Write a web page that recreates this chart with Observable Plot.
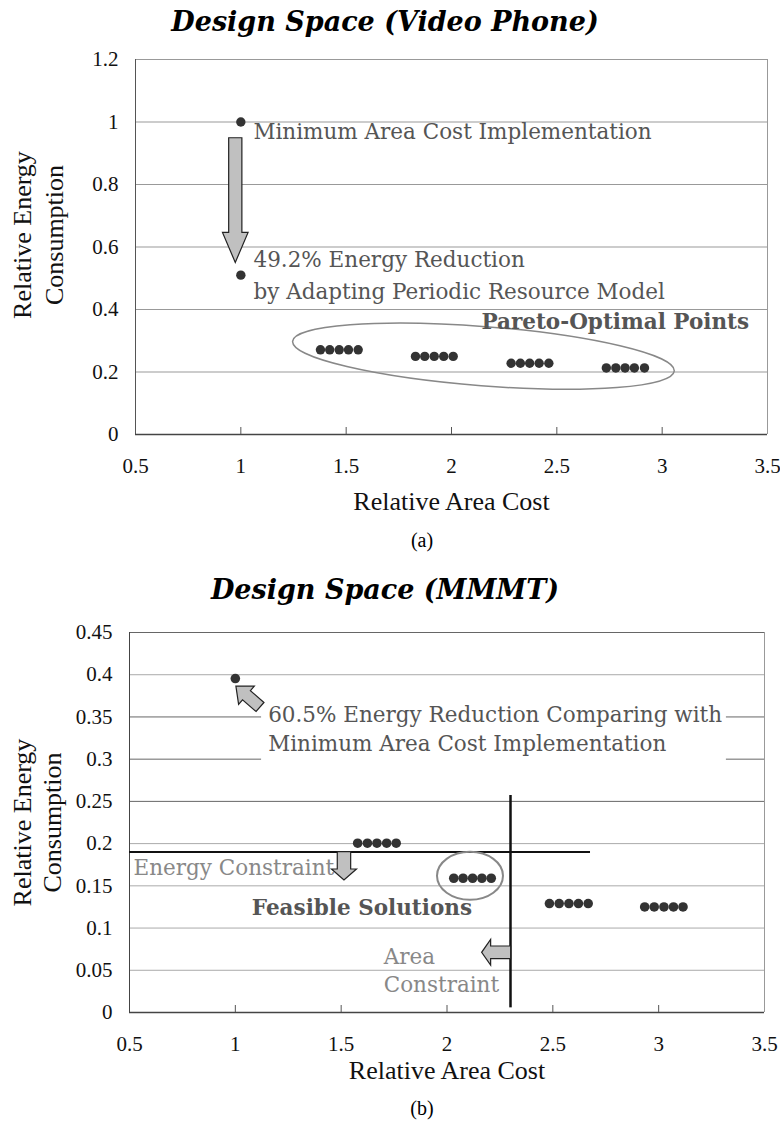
<!DOCTYPE html>
<html>
<head>
<meta charset="utf-8">
<script src="https://cdn.jsdelivr.net/npm/d3@7"></script>
<script src="https://cdn.jsdelivr.net/npm/@observablehq/plot@0.6"></script>
<style>
  html, body { margin: 0; padding: 0; background: #fff; }
  body { width: 780px; }
  .title { font-family: "DejaVu Serif", serif; font-weight: bold; font-style: italic; font-size: 27px;
           color: #000; text-align: center; width: 780px; padding-right: 10px; box-sizing: border-box; }
  .cap { font-family: "Liberation Serif", serif; font-size: 20px; color: #000; text-align: center;
         width: 780px; padding-left: 64px; box-sizing: border-box; }
  svg { display: block; }
  svg [aria-label$="tick label"], svg [aria-label$="tick label"] text {
    font-family: "Liberation Serif", serif !important; font-variant: normal !important;
  }
</style>
</head>
<body>
<div class="title" style="height:44px;line-height:44px">Design Space (Video Phone)</div>
<div id="chartA"></div>
<div class="cap" style="height:40px;line-height:40px">(a)</div>
<div class="title" style="height:60px;line-height:60px">Design Space (MMMT)</div>
<div id="chartB"></div>
<div class="cap" style="height:36px;line-height:36px">(b)</div>
<script>
// ---------- data ----------
const xTicks = [0.5, 1, 1.5, 2, 2.5, 3, 3.5];
const yTicksA = [0, 0.2, 0.4, 0.6, 0.8, 1, 1.2];
const yTicksB = [0, 0.05, 0.1, 0.15, 0.2, 0.25, 0.3, 0.35, 0.4, 0.45];
const gridDarkB = [0.25, 0.3, 0.35, 0.45];
const gridLightB = [0.05, 0.1, 0.15, 0.2, 0.4];

// (a) Video Phone: relative area cost vs relative energy consumption
const videoArea = [1, 1,
  1.378, 1.422, 1.467, 1.511, 1.557,
  1.829, 1.873, 1.918, 1.963, 2.008,
  2.283, 2.327, 2.371, 2.416, 2.462,
  2.735, 2.780, 2.824, 2.868, 2.916];
const videoEnergy = [1.0, 0.51,
  0.271, 0.271, 0.271, 0.271, 0.271,
  0.250, 0.250, 0.250, 0.250, 0.250,
  0.228, 0.228, 0.228, 0.228, 0.228,
  0.213, 0.213, 0.213, 0.213, 0.213];

// (b) MMMT
const mmmtArea = [1.0,
  1.578, 1.624, 1.669, 1.715, 1.760,
  2.032, 2.076, 2.121, 2.165, 2.209,
  2.484, 2.530, 2.576, 2.621, 2.667,
  2.934, 2.979, 3.025, 3.070, 3.115];
const mmmtEnergy = [0.3955,
  0.2005, 0.2005, 0.2005, 0.2005, 0.2005,
  0.159, 0.159, 0.159, 0.159, 0.159,
  0.129, 0.129, 0.129, 0.129, 0.129,
  0.125, 0.125, 0.125, 0.125, 0.125];

const energyConstraint = 0.19;   // horizontal line
const areaConstraint = 2.30;     // vertical line

// annotations (data coordinates)
const notesA = [
  {x: 1.06, y: 0.967, text: "Minimum Area Cost Implementation"},
  {x: 1.06, y: 0.559, text: "49.2% Energy Reduction"},
  {x: 1.06, y: 0.455, text: "by Adapting Periodic Resource Model"}
];
const boldA = [{x: 2.142, y: 0.359, text: "Pareto-Optimal Points"}];
const notesB = [
  {x: 1.155, y: 0.3526, text: "60.5% Energy Reduction Comparing with"},
  {x: 1.155, y: 0.3174, text: "Minimum Area Cost Implementation"}
];
const lightB = [
  {x: 0.519, y: 0.1714, text: "Energy Constraint"},
  {x: 1.701, y: 0.0655, text: "Area"},
  {x: 1.701, y: 0.032, text: "Constraint"}
];
const boldB = [{x: 1.078, y: 0.1235, text: "Feasible Solutions"}];
const boxB = [{x1: 1.124, x2: 3.32, y1: 0.29, y2: 0.365}];

// arrows: tail -> tip (data coordinates)
const arrowA = [{x1: 0.976, y1: 0.948, x2: 0.976, y2: 0.549}];
const arrowPoint = [{x1: 1.119, y1: 0.3612, x2: 1.005, y2: 0.386}];
const arrowEnergy = [{x1: 1.5156, y1: 0.19, x2: 1.5156, y2: 0.1563}];
const arrowArea = [{x1: 2.303, y1: 0.0707, x2: 2.166, y2: 0.0707}];

// ellipses (centres in data coordinates)
const ellipseA = [{x: 2.154, y: 0.249}];
const ellipseB = [{x: 2.111, y: 0.1613}];

// ---------- helpers ----------
const mono = "Liberation Serif";
const serif = "DejaVu Serif";
const noteSize = 21.5;

function blockArrow(list, {shaft = 6, head = 12.5, headLen = 11, fill = "#c0c0c0", stroke = "#222", strokeWidth = 1.2} = {}) {
  return (index, scales) => {
    const g = d3.create("svg:g");
    for (const a of list) {
      const x1 = scales.x(a.x1), y1 = scales.y(a.y1), x2 = scales.x(a.x2), y2 = scales.y(a.y2);
      const dx = x2 - x1, dy = y2 - y1, L = Math.hypot(dx, dy);
      const ux = dx / L, uy = dy / L, px = -uy, py = ux;
      const nx = x1 + ux * (L - headLen), ny = y1 + uy * (L - headLen);
      const pts = [
        [x1 + px * shaft, y1 + py * shaft],
        [nx + px * shaft, ny + py * shaft],
        [nx + px * head, ny + py * head],
        [x2, y2],
        [nx - px * head, ny - py * head],
        [nx - px * shaft, ny - py * shaft],
        [x1 - px * shaft, y1 - py * shaft]
      ];
      g.append("polygon")
        .attr("points", pts.map(p => p.join(",")).join(" "))
        .attr("fill", fill).attr("stroke", stroke).attr("stroke-width", strokeWidth)
        .attr("stroke-linejoin", "miter");
    }
    return g.node();
  };
}

function ellipseMark(list, {rx, ry, angle = 0, stroke = "#888", strokeWidth = 1.5} = {}) {
  return (index, scales) => {
    const g = d3.create("svg:g");
    for (const e of list) {
      const cx = scales.x(e.x), cy = scales.y(e.y);
      g.append("ellipse").attr("cx", cx).attr("cy", cy).attr("rx", rx).attr("ry", ry)
        .attr("transform", `rotate(${angle} ${cx} ${cy})`)
        .attr("fill", "none").attr("stroke", stroke).attr("stroke-width", strokeWidth);
    }
    return g.node();
  };
}

const idxA = videoArea.map((_, i) => i);
const idxB = mmmtArea.map((_, i) => i);
const axisFont = {fontFamily: mono, fontSize: 21, fill: "#111", tickSize: 0, tickFormat: d => String(d), label: null};

// ---------- chart (a) ----------
const chartA = Plot.plot({
  width: 780, height: 476,
  marginTop: 15, marginLeft: 135, marginRight: 13, marginBottom: 86,
  style: {fontFamily: mono, background: "#fff", overflow: "visible"},
  x: {domain: [0.5, 3.5]},
  y: {domain: [0, 1.2]},
  marks: [
    Plot.ruleY(yTicksA.slice(1), {stroke: "#999", strokeWidth: 1}),
    Plot.ruleX([3.5], {stroke: "#999"}),
    Plot.ruleX([0.5], {stroke: "#555"}),
    Plot.ruleY([0], {stroke: "#444", strokeWidth: 1.3}),
    Plot.ruleX(xTicks.slice(1, -1), {y1: 0, y2: 0, insetTop: -7, stroke: "#555"}),
    Plot.axisY(yTicksA, {anchor: "left", tickPadding: 17, ...axisFont}),
    Plot.axisX(xTicks, {anchor: "bottom", tickPadding: 24, ...axisFont}),
    Plot.text(["Relative Area Cost"], {frameAnchor: "bottom", dy: 75, fontFamily: mono, fontSize: 26, fill: "#111", text: d => d}),
    Plot.text(["Relative Energy"], {frameAnchor: "left", textAnchor: "middle", rotate: -90, dx: -113, dy: -12, fontFamily: mono, fontSize: 26, fill: "#111", text: d => d}),
    Plot.text(["Consumption"], {frameAnchor: "left", textAnchor: "middle", rotate: -90, dx: -81, dy: -12, fontFamily: mono, fontSize: 26, fill: "#111", text: d => d}),
    ellipseMark(ellipseA, {rx: 191.4, ry: 29.6, angle: 4.45, stroke: "#888", strokeWidth: 1.5}),
    blockArrow(arrowA, {shaft: 6.6, head: 12.8, headLen: 30}),
    Plot.dot(idxA, {x: i => videoArea[i], y: i => videoEnergy[i], r: 4.7, fill: "#333", stroke: "none"}),
    Plot.text(notesA, {x: "x", y: "y", text: "text", textAnchor: "start", fontFamily: serif, fontSize: noteSize, fill: "#555"}),
    Plot.text(boldA, {x: "x", y: "y", text: "text", textAnchor: "start", fontFamily: serif, fontWeight: "bold", fontSize: noteSize, fill: "#555"})
  ]
});
document.getElementById("chartA").append(chartA);

// ---------- chart (b) ----------
const chartB = Plot.plot({
  width: 780, height: 470,
  marginTop: 12, marginLeft: 129, marginRight: 16, marginBottom: 78,
  style: {fontFamily: mono, background: "#fff", overflow: "visible"},
  x: {domain: [0.5, 3.5]},
  y: {domain: [0, 0.45]},
  marks: [
    Plot.ruleY(gridLightB, {stroke: "#aaa", strokeWidth: 1}),
    Plot.ruleY(gridDarkB, {stroke: "#666", strokeWidth: 1}),
    Plot.ruleX([3.5], {stroke: "#999"}),
    Plot.ruleX([0.5], {stroke: "#444"}),
    Plot.ruleY([0], {stroke: "#444", strokeWidth: 1.3}),
    Plot.ruleX(xTicks.slice(1, -1), {y1: 0, y2: 0, insetTop: -7, stroke: "#555"}),
    Plot.axisY(yTicksB, {anchor: "left", tickPadding: 17, ...axisFont}),
    Plot.axisX(xTicks, {anchor: "bottom", tickPadding: 24, ...axisFont}),
    Plot.text(["Relative Area Cost"], {frameAnchor: "bottom", dy: 66, fontFamily: mono, fontSize: 26, fill: "#111", text: d => d}),
    Plot.text(["Relative Energy"], {frameAnchor: "left", textAnchor: "middle", rotate: -90, dx: -107, fontFamily: mono, fontSize: 26, fill: "#111", text: d => d}),
    Plot.text(["Consumption"], {frameAnchor: "left", textAnchor: "middle", rotate: -90, dx: -77, fontFamily: mono, fontSize: 26, fill: "#111", text: d => d}),
    Plot.rect(boxB, {x1: "x1", x2: "x2", y1: "y1", y2: "y2", fill: "#fff"}),
    Plot.ruleY([energyConstraint], {x1: 0.5, x2: 2.678, stroke: "#111", strokeWidth: 2}),
    Plot.ruleX([areaConstraint], {y1: 0.0055, y2: 0.257, stroke: "#111", strokeWidth: 2.5}),
    ellipseMark(ellipseB, {rx: 33, ry: 24, stroke: "#888", strokeWidth: 2}),
    blockArrow(arrowPoint, {shaft: 6, head: 12, headLen: 14}),
    blockArrow(arrowEnergy, {shaft: 6.7, head: 12.5, headLen: 11}),
    blockArrow(arrowArea, {shaft: 6.3, head: 12.8, headLen: 9}),
    Plot.dot(idxB, {x: i => mmmtArea[i], y: i => mmmtEnergy[i], r: 4.8, fill: "#333", stroke: "none"}),
    Plot.text(notesB, {x: "x", y: "y", text: "text", textAnchor: "start", fontFamily: serif, fontSize: noteSize, fill: "#555"}),
    Plot.text(lightB, {x: "x", y: "y", text: "text", textAnchor: "start", fontFamily: serif, fontSize: noteSize, fill: "#888"}),
    Plot.text(boldB, {x: "x", y: "y", text: "text", textAnchor: "start", fontFamily: serif, fontWeight: "bold", fontSize: noteSize, fill: "#555"})
  ]
});
document.getElementById("chartB").append(chartB);
</script>
</body>
</html>
